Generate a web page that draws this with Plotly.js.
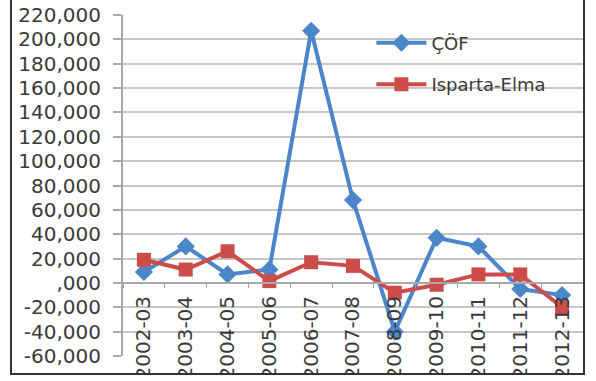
<!DOCTYPE html>
<html>
<head>
<meta charset="utf-8">
<script src="https://cdn.plot.ly/plotly-3.0.1.min.js"></script>
<style>
html,body{margin:0;padding:0;background:#fff;}
#chart{width:596px;height:381px;}
</style>
</head>
<body>
<div id="chart"></div>
<script>
const categories = ["2002-03","2003-04","2004-05","2005-06","2006-07","2007-08","2008-09","2009-10","2010-11","2011-12","2012-13"];
const cofValues = [9000, 30000, 7000, 11000, 207000, 68000, -40000, 37000, 30000, -5000, -10000];
const ispartaValues = [19000, 11000, 26000, 1500, 17000, 14000, -8000, -1500, 7000, 7000, -20000];
const yTickVals = [220000,200000,180000,160000,140000,120000,100000,80000,60000,40000,20000,0,-20000,-40000,-60000];
const yTickText = ["220,000","200,000","180,000","160,000","140,000","120,000","100,000","80,000","60,000","40,000","20,000",",000","-20,000","-40,000","-60,000"];

const font = {family: "DejaVu Sans", size: 18, color: "#3a3a3a"};
const tickFont = {family: "DejaVu Sans", size: 20, color: "#3a3a3a"};
const yMin = -60000, yMax = 220000;

const traces = [
  {
    x: categories, y: cofValues, name: "ÇÖF", type: "scatter", mode: "lines+markers",
    line: {color: "#4a86c8", width: 4},
    marker: {symbol: "diamond", size: 14, color: "#4a86c8"},
    legendgroup: "a"
  },
  {
    x: categories, y: ispartaValues, name: "Isparta-Elma", type: "scatter", mode: "lines+markers",
    line: {color: "#cc4c4a", width: 4},
    marker: {symbol: "square", size: 14, color: "#cc4c4a"},
    legendgroup: "b"
  }
];

const layout = {
  width: 596, height: 381,
  margin: {l: 123, r: 13, t: 15, b: 25},
  paper_bgcolor: "#ffffff", plot_bgcolor: "#ffffff",
  font: font,
  showlegend: true,
  legend: {
    x: 0.54, y: 0.972, xanchor: "left", yanchor: "top",
    bgcolor: "rgba(0,0,0,0)", font: font,
    traceorder: "grouped", tracegroupgap: 15, itemwidth: 50
  },
  xaxis: {
    type: "category",
    anchor: "free",
    position: (0 - yMin) / (yMax - yMin),
    tickangle: -90,
    tickson: "boundaries",
    ticks: "outside", ticklen: 4, tickcolor: "#a0a0a0", tickwidth: 1,
    ticklabelstandoff: 4,
    showgrid: false, zeroline: false,
    showline: true, linecolor: "#a8a8a8", linewidth: 2,
    tickfont: tickFont,
    range: [-0.5, categories.length - 0.5]
  },
  yaxis: {
    range: [yMin, yMax],
    tickvals: yTickVals, ticktext: yTickText,
    ticks: "outside", ticklen: 8, tickcolor: "#a8a8a8", tickwidth: 2,
    ticklabelstandoff: 8,
    showgrid: true, gridcolor: "#c8c5c5", gridwidth: 2,
    zeroline: false,
    showline: true, linecolor: "#a8a8a8", linewidth: 2,
    tickfont: tickFont
  },
  shapes: [
    {type: "rect", xref: "paper", yref: "paper",
     x0: -0.3, x1: 1.1,
     y0: (356 - 390) / 341, y1: (356 - 374) / 341,
     line: {width: 0}, fillcolor: "#ffffff", layer: "above"},
    {type: "rect", xref: "paper", yref: "paper",
     x0: (11 - 123) / 460, x1: (584 - 123) / 460,
     y0: (356 - 374) / 341, y1: (356 + 3) / 341,
     line: {color: "#333333", width: 2}, fillcolor: "rgba(0,0,0,0)", layer: "above"}
  ]
};

Plotly.newPlot("chart", traces, layout, {displayModeBar: false, staticPlot: true});
</script>
</body>
</html>
